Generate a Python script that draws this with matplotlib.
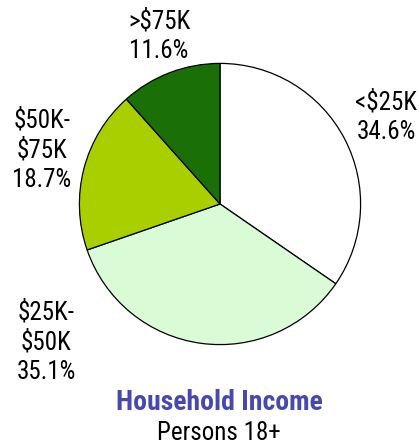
import matplotlib.pyplot as plt
from matplotlib import font_manager

# household income split, clockwise from the top
categories = ['<$25K', '$25K-\n$50K', '$50K-\n$75K', '>$75K']
shares = [34.6, 35.1, 18.7, 11.6]
colors = ['#ffffff', '#d9fbd5', '#aacf00', '#1a7007']

names = {f.name for f in font_manager.fontManager.ttflist}
family = 'Roboto Condensed' if 'Roboto Condensed' in names else 'Liberation Sans'
plt.rcParams['font.family'] = [family, 'DejaVu Sans']

W, H = 419, 447
fig = plt.figure(figsize=(W / 100, H / 100), dpi=100)

# pie centred at (220, 204) px with a 142 px radius
cx, cy, r = 220, 204, 142
ax = fig.add_axes([(cx - r) / W, (H - cy - r) / H, 2 * r / W, 2 * r / H])
ax.pie(shares, colors=colors, startangle=90, counterclock=False,
       wedgeprops=dict(edgecolor='black', linewidth=0.9))
ax.set_aspect('equal')
ax.set_xlim(-1.01, 1.01)
ax.set_ylim(-1.01, 1.01)

def px(x, y):
    return x / W, 1 - y / H

label_pos = [(355, 117, 'left'), (46, 342, 'center'), (42, 150, 'center'), (159, 36, 'center')]
for cat, val, (x, y, ha) in zip(categories, shares, label_pos):
    fig.text(*px(x, y), f'{cat}\n{val}%', ha=ha, va='center', multialignment='center',
             fontsize=18, linespacing=1.3, color='black')

fig.text(*px(219, 402), 'Household Income', ha='center', va='center',
         fontsize=20, fontweight='bold', color='#4848b0')
fig.text(*px(219, 433), 'Persons 18+', ha='center', va='center',
         fontsize=18, color='black')

fig.savefig('out.png', dpi=100)
